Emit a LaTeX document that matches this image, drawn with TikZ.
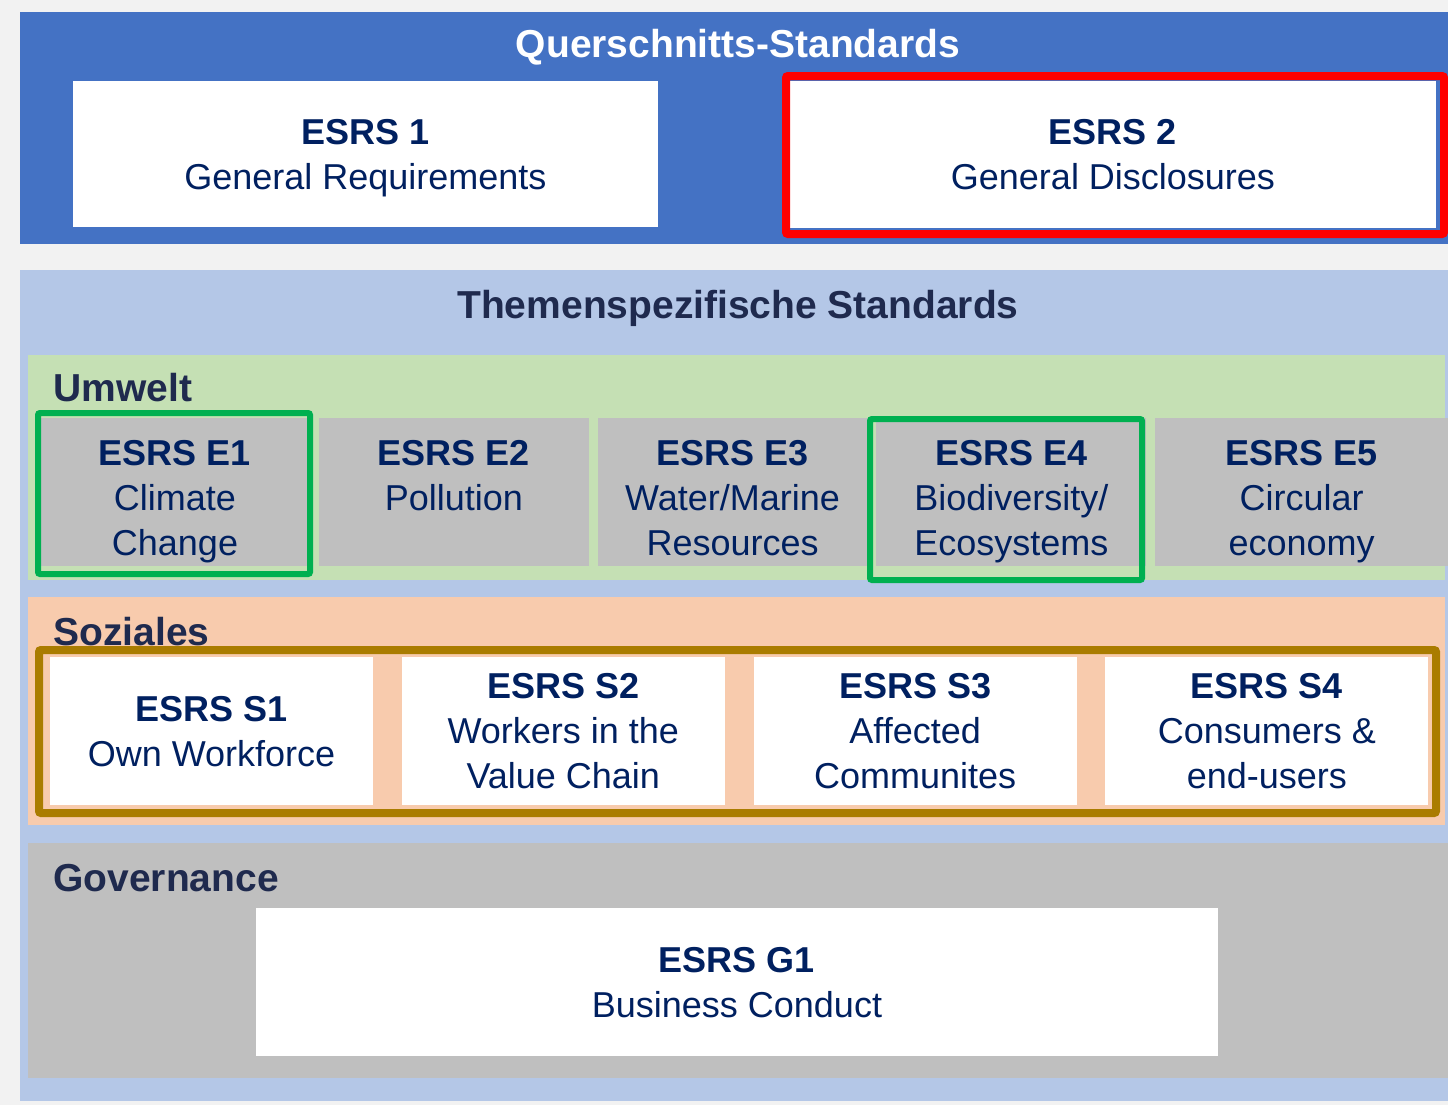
\documentclass[tikz,border=0pt]{standalone}
\usepackage{fontspec}
\setmainfont{Liberation Sans}
\usetikzlibrary{positioning}

\definecolor{pagegrey}{HTML}{F2F2F2}
\definecolor{querblue}{HTML}{4472C4}
\definecolor{themeblue}{HTML}{B4C7E7}
\definecolor{umweltgreen}{HTML}{C5E0B4}
\definecolor{sozpeach}{HTML}{F8CBAD}
\definecolor{boxgrey}{HTML}{BFBFBF}
\definecolor{esrsnavy}{HTML}{002060}
\definecolor{headnavy}{HTML}{1F2A4E}
\definecolor{markgreen}{HTML}{00B050}
\definecolor{markgold}{HTML}{AA7C00}

\begin{document}
\begin{tikzpicture}[x=0.5pt,y=-0.5pt,
    esrs box/.style={rectangle,inner sep=0pt,align=center,text=esrsnavy,text depth=0pt,
                     font=\fontsize{18}{22.5}\selectfont},
    e box/.style={rectangle,fill=boxgrey,minimum width=135pt,minimum height=74pt},
    e text/.style={esrs box,below=11pt of #1.north},
    s box/.style={esrs box,fill=white,minimum width=161.5pt,minimum height=74pt},
    heading/.style={inner sep=0pt,text=headnavy,font=\bfseries\fontsize{19.5}{23}\selectfont},
    frame/.style={draw,line width=3pt,rounded corners=1pt}]

% background and bands
\fill[pagegrey] (0,0) rectangle (1448,1105);
\useasboundingbox (0,0) rectangle (1448,1105);
\fill[querblue] (20,12) rectangle (1448,244);
\fill[themeblue] (20,270) rectangle (1448,1101);
\fill[umweltgreen] (28,355) rectangle (1445,580);
\fill[sozpeach] (28,597) rectangle (1445,825);
\fill[boxgrey] (28,843) rectangle (1448,1078);

% Querschnitts-Standards
\node[heading,text=white] (quer) at (738,47) {Querschnitts-Standards};
\node[esrs box,fill=white,minimum width=292.5pt,minimum height=73pt] (esrs1) at (365.5,154)
    {\textbf{ESRS 1}\\General Requirements};
\node[esrs box,fill=white,minimum width=323pt,minimum height=73.5pt] (esrs2) at (1113,154.5)
    {\textbf{ESRS 2}\\General Disclosures};
\draw[frame,red,line width=4pt] (786,76) rectangle (1444,234);

% Themenspezifische Standards
\node[heading] (thema) at (738,308) {Themenspezifische Standards};

% Umwelt
\node[heading,anchor=west] (umwelt) at (53,388) {Umwelt};
\node[e box] (e1) at (175,492) {};
\node[e box,right=4pt of e1] (e2) {};
\node[e box,right=4pt of e2] (e3) {};
\node[e box,right=4pt of e3] (e4) {};
\node[e box,right=4pt of e4,minimum width=146.5pt] (e5) {};
\node[e text=e1] (e1text) {\textbf{ESRS E1}\\Climate\\Change};
\node[e text=e2] (e2text) {\textbf{ESRS E2}\\Pollution};
\node[e text=e3] (e3text) {\textbf{ESRS E3}\\Water/Marine\\Resources};
\node[e text=e4] (e4text) {\textbf{ESRS E4}\\Biodiversity/\\Ecosystems};
\node[e text=e5] (e5text) {\textbf{ESRS E5}\\Circular\\economy};
\draw[frame,markgreen] (38,413) rectangle (310,574);
\draw[frame,markgreen] (870,419) rectangle (1142,580);

% Soziales
\node[heading,anchor=west] (soziales) at (53,632) {Soziales};
\node[s box] (s1) at (211.5,731) {\textbf{ESRS S1}\\Own Workforce};
\node[s box,right=14pt of s1] (s2) {\textbf{ESRS S2}\\Workers in the\\Value Chain};
\node[s box,right=14pt of s2] (s3) {\textbf{ESRS S3}\\Affected\\Communites};
\node[s box,right=14pt of s3] (s4) {\textbf{ESRS S4}\\Consumers \&\\end-users};
\draw[frame,markgold,line width=4pt] (39,650) rectangle (1436,813);

% Governance
\node[heading,anchor=west] (governance) at (53,878) {Governance};
\node[esrs box,fill=white,minimum width=481pt,minimum height=74pt] (g1) at (737,982)
    {\textbf{ESRS G1}\\Business Conduct};
\end{tikzpicture}
\end{document}
